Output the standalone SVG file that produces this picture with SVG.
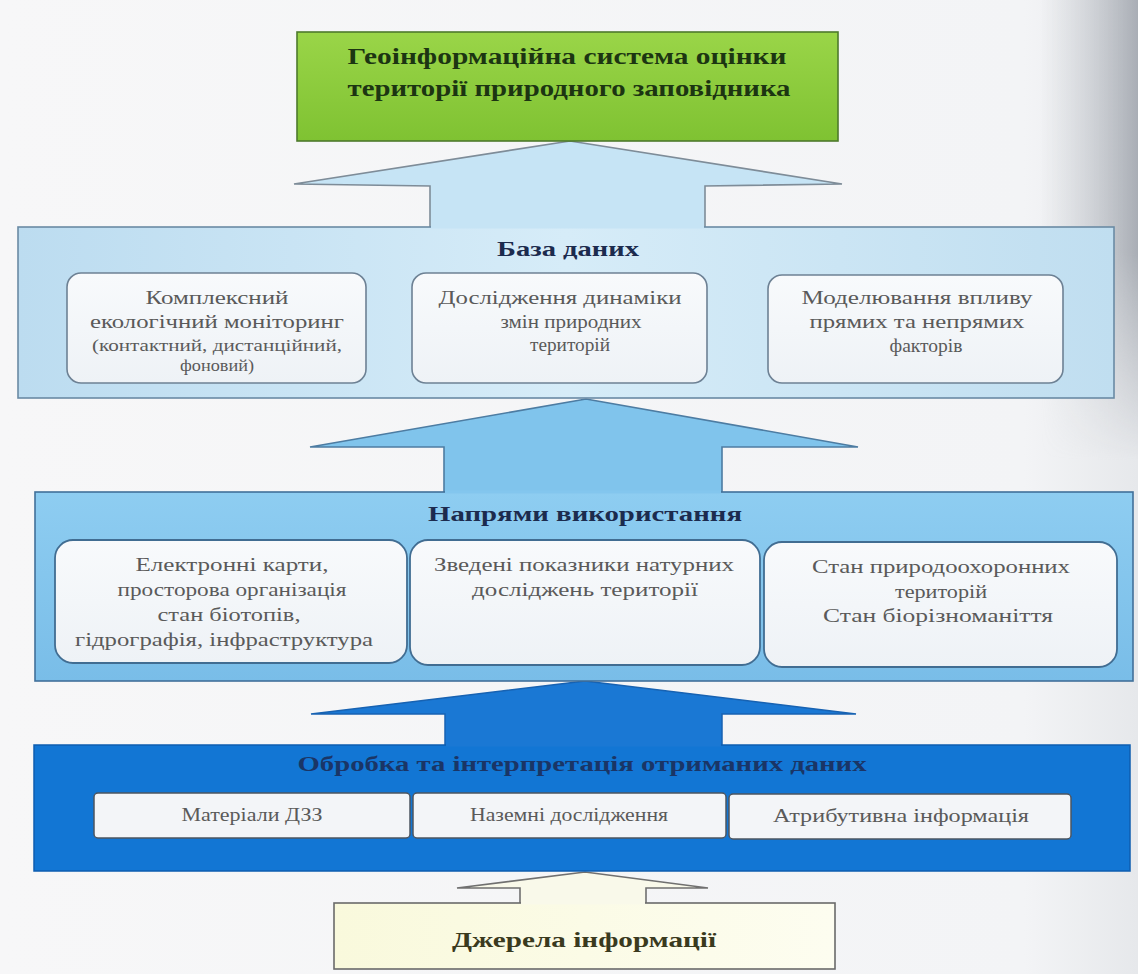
<svg xmlns="http://www.w3.org/2000/svg" width="1138" height="974" viewBox="0 0 1138 974">
<defs>
<linearGradient id="bg" x1="0" y1="0" x2="1" y2="0">
<stop offset="0" stop-color="#f7f7f8"/><stop offset="0.9" stop-color="#f3f4f6"/><stop offset="1" stop-color="#e6e8eb"/>
</linearGradient>
<linearGradient id="curl" x1="0" y1="0" x2="1" y2="0">
<stop offset="0" stop-color="#c0c4ca" stop-opacity="0"/><stop offset="1" stop-color="#9ea3ab" stop-opacity="0.85"/>
</linearGradient>
<linearGradient id="fadeV" x1="0" y1="0" x2="0" y2="1">
<stop offset="0" stop-color="#fff"/><stop offset="0.55" stop-color="#fff"/><stop offset="1" stop-color="#000"/>
</linearGradient>
<mask id="curlMask"><rect x="1000" y="0" width="138" height="460" fill="url(#fadeV)"/></mask>
<linearGradient id="green" x1="0" y1="0" x2="0" y2="1">
<stop offset="0" stop-color="#9ad548"/><stop offset="1" stop-color="#7fc232"/>
</linearGradient>
<linearGradient id="db" x1="0" y1="0" x2="1" y2="0">
<stop offset="0" stop-color="#bcdcf0"/><stop offset="0.5" stop-color="#d6ecf8"/><stop offset="1" stop-color="#c0def0"/>
</linearGradient>
<linearGradient id="p2" x1="0" y1="0" x2="0" y2="1">
<stop offset="0" stop-color="#8ecdf1"/><stop offset="1" stop-color="#79bde8"/>
</linearGradient>
<linearGradient id="yel" x1="0" y1="0" x2="1" y2="0">
<stop offset="0" stop-color="#f9f9dc"/><stop offset="1" stop-color="#fdfdf0"/>
</linearGradient>
<linearGradient id="card" x1="0" y1="0" x2="0" y2="1">
<stop offset="0" stop-color="#f8fafc"/><stop offset="1" stop-color="#eef2f6"/>
</linearGradient>
<style>
text{font-family:"Liberation Serif","DejaVu Serif",serif;text-anchor:middle}
.title{font-weight:bold;fill:#1c2b4e;font-size:22px}
.txt{fill:#5a5a5a;font-size:19px}
.sm{fill:#5a5a5a;font-size:16px}
.c1{fill:url(#card);stroke:#6d8194;stroke-width:1.6}
.c2{fill:url(#card);stroke:#416d92;stroke-width:1.8}
.c3{fill:#f3f5f8;stroke:#4c5560;stroke-width:1.5}
</style>
</defs>
<rect x="0" y="0" width="1138" height="974" fill="url(#bg)"/>
<rect x="1040" y="0" width="98" height="460" fill="url(#curl)" mask="url(#curlMask)"/>

<g id="connectors">
<path d="M570,141 L294,184 L430,186 L430,229 L705,229 L705,186 L842,184 Z" fill="#c6e4f5"/>
<path d="M430,229 L430,186 L294,184 L570,141 L842,184 L705,186 L705,229" fill="none" stroke="#7e8c98" stroke-width="1.6"/>
<path d="M586,399 L310,447 L444,447 L444,494 L722,494 L722,447 L858,447 Z" fill="#80c4ec"/>
<path d="M444,494 L444,447 L310,447 L586,399 L858,447 L722,447 L722,494" fill="none" stroke="#4d7ca2" stroke-width="1.6"/>
<path d="M585,681 L311,714 L445,714 L445,747 L722,747 L722,714 L856,714 Z" fill="#1a78d4"/>
<path d="M445,747 L445,714 L311,714 L585,681 L856,714 L722,714 L722,747" fill="none" stroke="#1762b2" stroke-width="1.5"/>
<path d="M585,872 L457,888 L520,888 L520,904 L646,904 L646,888 L708,888 Z" fill="#f9f9ea"/>
<path d="M520,904 L520,888 L457,888 L585,872 L708,888 L646,888 L646,904" fill="none" stroke="#707070" stroke-width="1.6"/>
</g>

<g id="gis">
<rect x="297" y="32" width="541" height="109" fill="url(#green)" stroke="#4e7a2c" stroke-width="1.6"/>
<text x="567" y="64" font-weight="bold" font-size="23" fill="#1c3512" textLength="439" lengthAdjust="spacingAndGlyphs">Геоінформаційна система оцінки</text>
<text x="569" y="96" font-weight="bold" font-size="23" fill="#1c3512" textLength="443" lengthAdjust="spacingAndGlyphs">території природного заповідника</text>
</g>

<g id="database">
<rect x="18" y="227" width="1096" height="171" fill="url(#db)" stroke="#6a8aa4" stroke-width="1.6"/>
<path d="M431,227 L704,227" stroke="#c6e4f5" stroke-width="3"/>
<text class="title" x="568" y="256" textLength="142" lengthAdjust="spacingAndGlyphs">База даних</text>
</g>
<g id="db-monitoring">
<rect class="c1" x="67" y="273" width="299" height="110" rx="14"/>
<text class="txt" x="217" y="304" textLength="143" lengthAdjust="spacingAndGlyphs">Комплексний</text>
<text class="txt" x="217" y="328" textLength="254" lengthAdjust="spacingAndGlyphs">екологічний моніторинг</text>
<text class="sm" x="217" y="351" textLength="250" lengthAdjust="spacingAndGlyphs">(контактний, дистанційний,</text>
<text class="sm" x="217" y="371" textLength="74" lengthAdjust="spacingAndGlyphs">фоновий)</text>
</g>
<g id="db-dynamics">
<rect class="c1" x="412" y="273" width="295" height="110" rx="14"/>
<text class="txt" x="560" y="304" textLength="243" lengthAdjust="spacingAndGlyphs">Дослідження динаміки</text>
<text class="txt" x="571" y="328" textLength="141" lengthAdjust="spacingAndGlyphs">змін природних</text>
<text class="txt" x="570" y="351" textLength="80" lengthAdjust="spacingAndGlyphs">територій</text>
</g>
<g id="db-modelling">
<rect class="c1" x="768" y="275" width="295" height="108" rx="14"/>
<text class="txt" x="917" y="304" textLength="231" lengthAdjust="spacingAndGlyphs">Моделювання впливу</text>
<text class="txt" x="917" y="328" textLength="215" lengthAdjust="spacingAndGlyphs">прямих та непрямих</text>
<text class="txt" x="926" y="352" textLength="73" lengthAdjust="spacingAndGlyphs">факторів</text>
</g>

<g id="usage">
<rect x="35" y="492" width="1098" height="189" fill="url(#p2)" stroke="#41709a" stroke-width="1.6"/>
<path d="M445,492 L721,492" stroke="#83c6ee" stroke-width="3"/>
<text class="title" x="585" y="521" textLength="314" lengthAdjust="spacingAndGlyphs">Напрями використання</text>
</g>
<g id="use-maps">
<rect class="c2" x="55" y="540" width="352" height="123" rx="18"/>
<text class="txt" x="232" y="571" textLength="193" lengthAdjust="spacingAndGlyphs">Електронні карти,</text>
<text class="txt" x="232" y="596" textLength="229" lengthAdjust="spacingAndGlyphs">просторова організація</text>
<text class="txt" x="229" y="621" textLength="143" lengthAdjust="spacingAndGlyphs">стан біотопів,</text>
<text class="txt" x="224" y="646" textLength="298" lengthAdjust="spacingAndGlyphs">гідрографія, інфраструктура</text>
</g>
<g id="use-indicators">
<rect class="c2" x="410" y="540" width="350" height="125" rx="18"/>
<text class="txt" x="584" y="571" textLength="300" lengthAdjust="spacingAndGlyphs">Зведені показники натурних</text>
<text class="txt" x="585" y="596" textLength="226" lengthAdjust="spacingAndGlyphs">досліджень території</text>
</g>
<g id="use-state">
<rect class="c2" x="764" y="542" width="353" height="125" rx="18"/>
<text class="txt" x="941" y="573" textLength="258" lengthAdjust="spacingAndGlyphs">Стан природоохоронних</text>
<text class="txt" x="941" y="598" textLength="92" lengthAdjust="spacingAndGlyphs">територій</text>
<text class="txt" x="938" y="622" textLength="230" lengthAdjust="spacingAndGlyphs">Стан біорізноманіття</text>
</g>

<g id="processing">
<rect x="34" y="745" width="1096" height="126" fill="#1276d4" stroke="#0e5eb0" stroke-width="1.5"/>
<path d="M446,745 L721,745" stroke="#1a78d4" stroke-width="3"/>
<text class="title" x="582" y="771" textLength="569" lengthAdjust="spacingAndGlyphs" style="fill:#1a3566">Обробка та інтерпретація отриманих даних</text>
</g>
<g id="proc-rs">
<rect class="c3" x="94" y="793" width="316" height="45" rx="4"/>
<text class="txt" x="252" y="821" textLength="141" lengthAdjust="spacingAndGlyphs">Матеріали ДЗЗ</text>
</g>
<g id="proc-ground">
<rect class="c3" x="413" y="793" width="313" height="45" rx="4"/>
<text class="txt" x="569" y="821" textLength="198" lengthAdjust="spacingAndGlyphs">Наземні дослідження</text>
</g>
<g id="proc-attr">
<rect class="c3" x="729" y="794" width="342" height="45" rx="4"/>
<text class="txt" x="901" y="822" textLength="256" lengthAdjust="spacingAndGlyphs">Атрибутивна інформація</text>
</g>

<g id="sources">
<rect x="334" y="903" width="501" height="66" fill="url(#yel)" stroke="#6a6a6a" stroke-width="1.6"/>
<path d="M521,903 L645,903" stroke="#f9f9ea" stroke-width="3"/>
<text x="584" y="947" font-weight="bold" font-size="22" fill="#3a3a1e" textLength="264" lengthAdjust="spacingAndGlyphs">Джерела інформації</text>
</g>
</svg>
